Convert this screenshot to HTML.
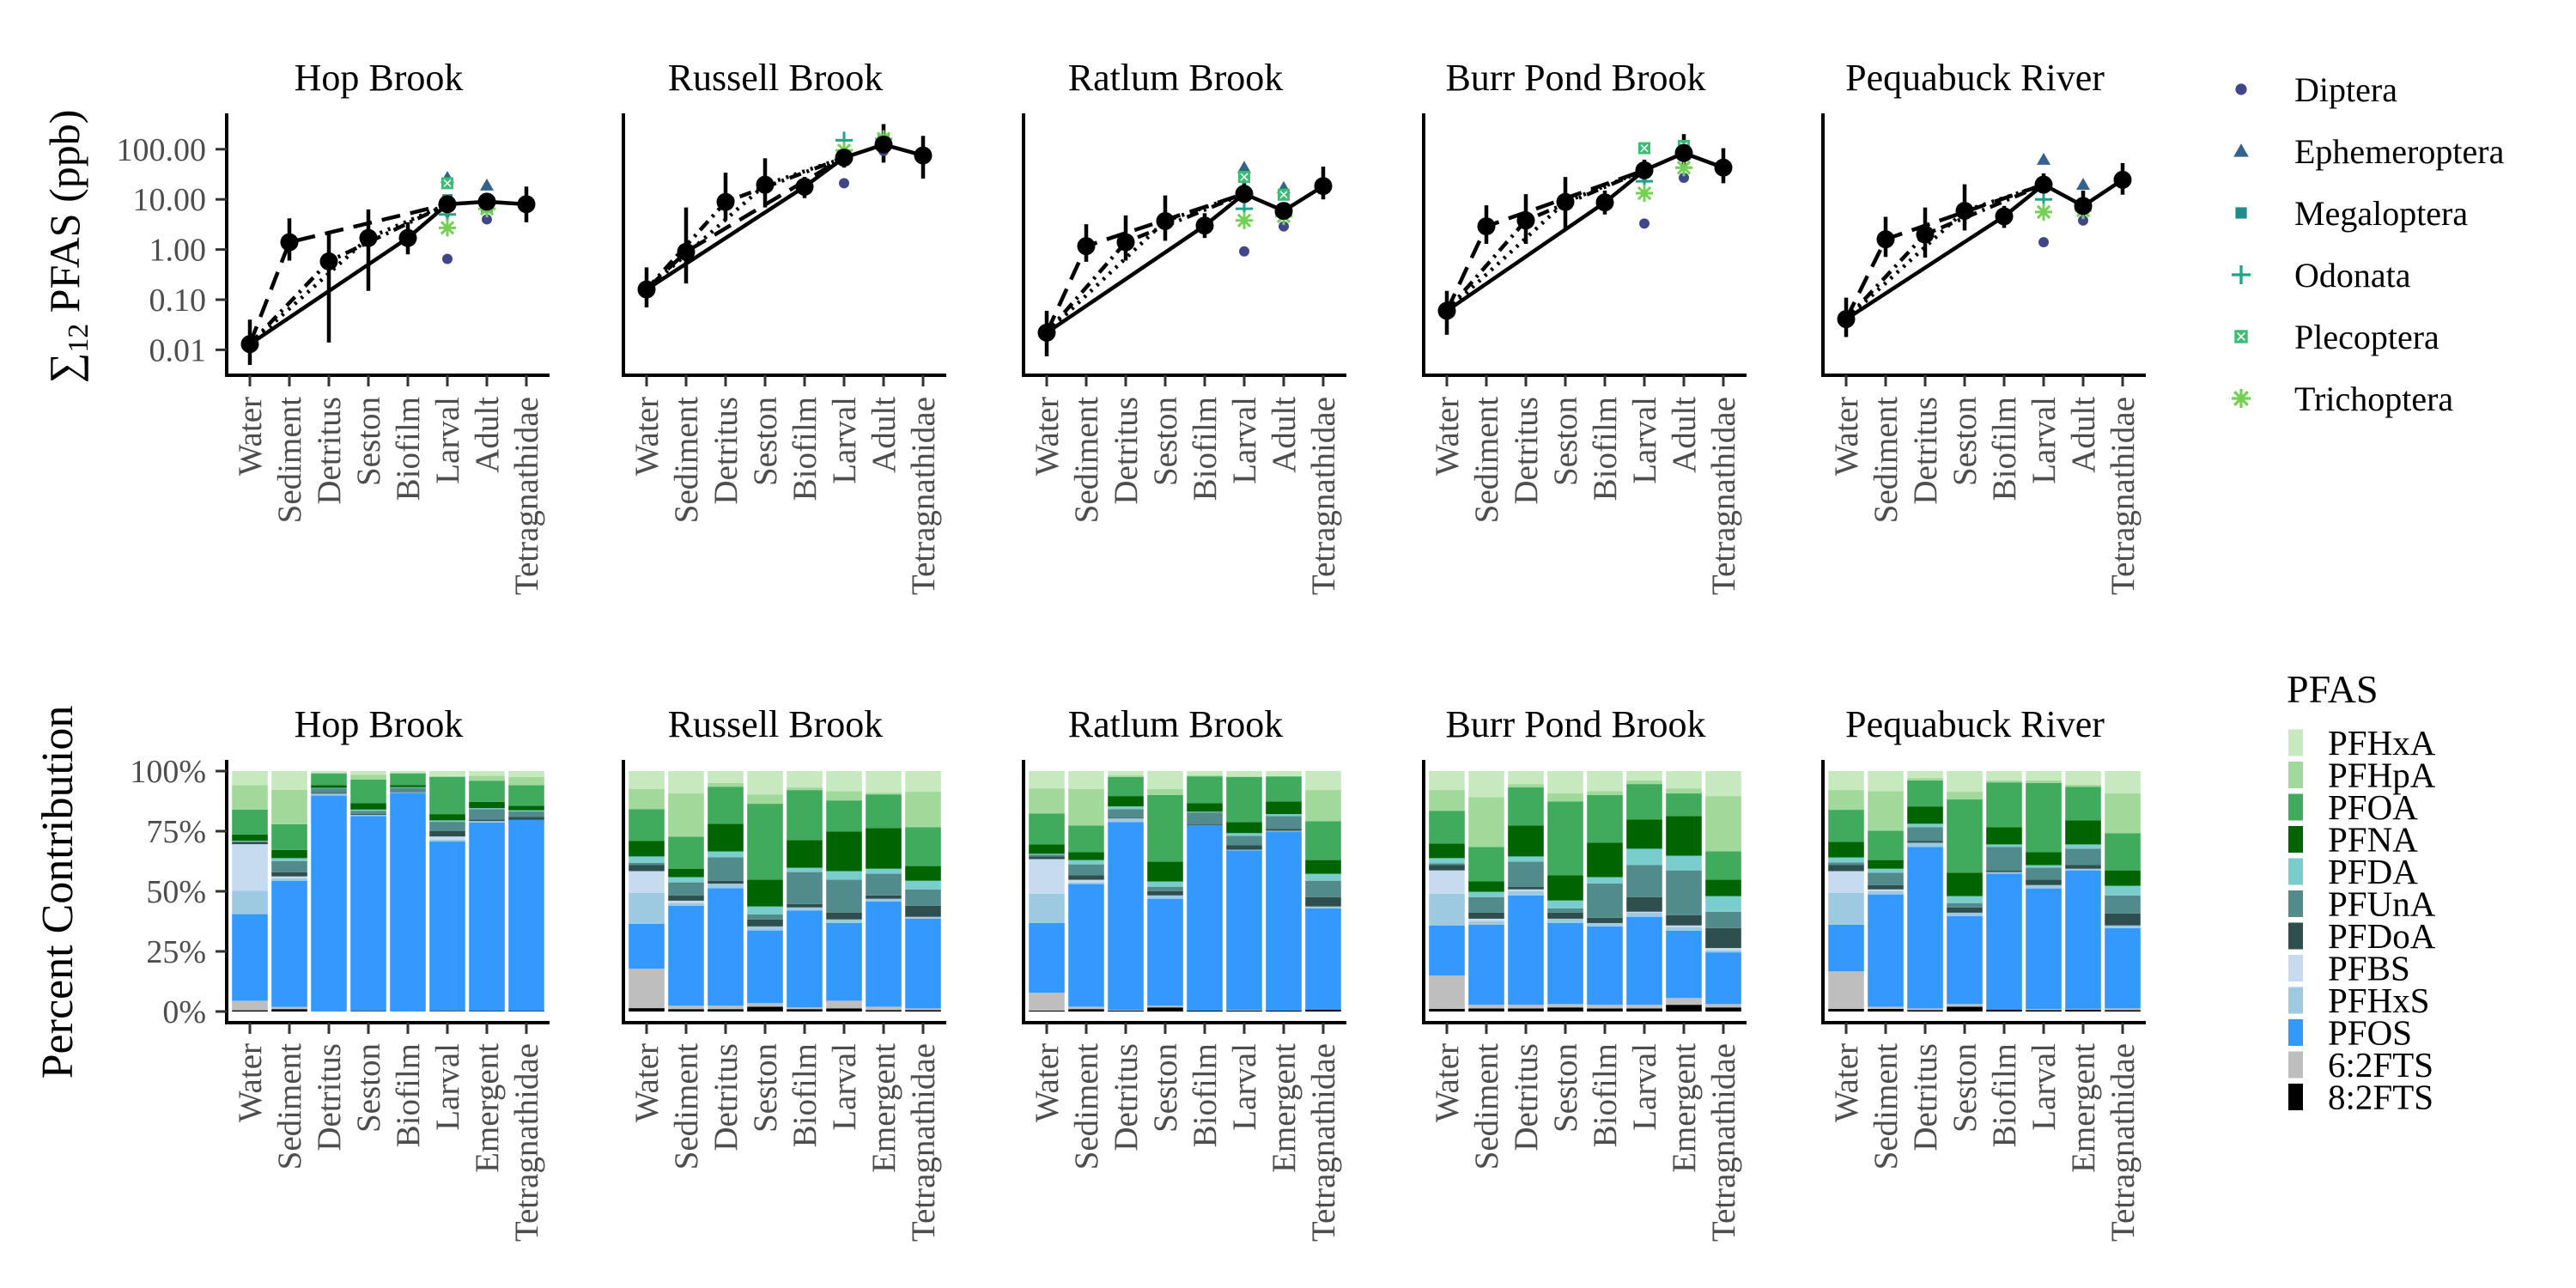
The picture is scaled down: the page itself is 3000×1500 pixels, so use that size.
<!DOCTYPE html>
<html><head><meta charset="utf-8">
<style>
html,body{margin:0;padding:0;background:#fff;}
svg{display:block;font-family:"Liberation Serif","DejaVu Serif",serif;}
</style></head>
<body>
<svg id="chart" width="3000" height="1500" viewBox="0 0 3000 1500" xmlns="http://www.w3.org/2000/svg">
<rect x="0" y="0" width="3000" height="1500" fill="#fff"/>
<text transform="translate(92,287) rotate(-90)" text-anchor="middle" font-size="50" fill="#000">∑<tspan font-size="34" dy="10">12</tspan><tspan dy="-10"> PFAS (ppb)</tspan></text>
<text transform="translate(84,1039) rotate(-90)" text-anchor="middle" font-size="52" fill="#000">Percent Contribution</text>
</svg>
<script>
const panelNames = ["Hop Brook","Russell Brook","Ratlum Brook","Burr Pond Brook","Pequabuck River"];
const topCats = ["Water","Sediment","Detritus","Seston","Biofilm","Larval","Adult","Tetragnathidae"];
const botCats = ["Water","Sediment","Detritus","Seston","Biofilm","Larval","Emergent","Tetragnathidae"];
const logTicks = [0.01,0.1,1,10,100];
const logTickLabels = ["0.01","0.10","1.00","10.00","100.00"];
const pctTicks = [0,25,50,75,100];
const pctTickLabels = ["0%","25%","50%","75%","100%"];

const meanVals = [
 [0.013,1.4,0.58,1.7,1.7,8,9,8],
 [0.16,0.9,8.9,19.6,17.9,68,124,75],
 [0.022,1.17,1.4,3.7,3.0,12.9,5.9,18.4],
 [0.06,2.9,3.8,8.9,8.7,38,84,43],
 [0.041,1.6,2.0,5.9,4.6,19.7,7.4,24.6]
];
const lowVals = [
 [0.005,0.6,0.014,0.15,0.8,4.5,6,3.5],
 [0.07,0.21,3.8,6.9,10.6,43,54,26],
 [0.0074,0.57,0.6,1.5,1.7,8.4,4.4,10],
 [0.02,1.3,1.3,2.4,5,24,40,21],
 [0.018,0.71,0.69,2.4,2.7,13.3,4.4,12.4]
];
const highVals = [
 [0.04,4.2,2.2,6.3,3.5,12,13,18],
 [0.44,6.9,34,66,28,102,318,185],
 [0.06,3.2,4.8,12,5.3,21,8.4,45],
 [0.15,7.6,12.7,28,15,62,200,105],
 [0.11,4.5,6.9,20,7.4,33,15,53]
];
const taxaNames = ["Diptera","Ephemeroptera","Megaloptera","Odonata","Plecoptera","Trichoptera"];
const larvalTaxa = [
 [0.65,27,10,5,21,2.7],
 [21,null,null,151,null,95],
 [0.92,43,28,6.5,28,3.8],
 [3.3,null,null,23,105,13.3],
 [1.4,62,null,10,null,5.6]
];
const adultTaxa = [
 [4,19,7,null,7,6.5],
 [92,null,null,null,150,162],
 [2.9,17,12,5.2,12.4,4.6],
 [27,null,null,null,116,43],
 [3.8,19.7,6.9,null,6.9,6]
];
const pfasNames = ["8:2FTS","6:2FTS","PFOS","PFHxS","PFBS","PFDoA","PFUnA","PFDA","PFNA","PFOA","PFHpA","PFHxA"];
// cumulative percent at top of each compound (bottom to top), per bar
const barCum = [
 [[0.5,4.5,40.5,50.2,69.6,70.6,70.6,71.0,73.6,84.0,94.1,100],
  [1.0,1.9,54.4,55.4,56.2,57.9,62.6,63.8,67.2,77.9,92.2,100],
  [0,0,89.8,90.6,90.6,91.0,92.8,93.0,94.2,99.0,99.4,100],
  [0.2,0.3,81.3,81.8,81.8,82.2,83.5,84.0,86.6,96.5,98.4,100],
  [0,0,90.9,91.2,91.2,91.4,93.1,93.3,94.2,99.0,99.4,100],
  [0.2,0.3,70.7,71.5,72.8,75.0,78.9,79.5,82.1,97.6,97.9,100],
  [0.2,0.2,78.6,79.2,79.2,79.8,84.2,84.6,87.2,96.0,98.1,100],
  [0.2,0.2,79.7,79.7,79.7,81.0,83.2,83.7,85.6,94.1,97.6,100]],
 [[1.4,17.8,36.5,49.4,58.4,60.9,61.8,64.5,70.9,84.2,92.5,100],
  [1.0,2.4,44.0,45.0,46.1,48.2,53.7,55.9,59.4,72.7,90.7,100],
  [1.0,2.4,51.3,53.2,53.2,54.4,64.1,66.6,78.1,93.5,95.0,100],
  [2.0,3.5,33.7,35.4,35.4,38.3,40.4,43.7,54.8,86.4,90.3,100],
  [1.0,1.7,42.0,43.3,43.3,44.7,58.0,59.8,71.3,92.1,93.2,100],
  [1.3,4.5,36.8,38.3,38.3,41.1,54.8,58.4,74.9,87.8,91.7,100],
  [0.6,2.0,45.8,46.9,46.9,48.3,57.3,59.4,76.3,90.3,91.0,100],
  [0.6,1.3,38.6,39.4,39.4,44.0,50.8,54.4,60.5,76.7,91.4,100]],
 [[0.4,7.8,36.8,49.0,63.4,64.5,65.2,65.6,69.5,82.4,92.8,100],
  [1.0,2.0,53.0,53.7,54.8,56.6,61.2,63.0,66.3,77.4,92.5,100],
  [0.4,0.6,78.8,80.3,80.3,80.6,84.2,85.3,89.6,97.5,98.2,100],
  [1.7,2.4,46.9,48.3,48.3,50.1,51.9,54.1,62.3,90.0,92.5,100],
  [0.4,0.4,77.4,77.4,77.4,77.8,82.8,83.1,86.7,97.8,98.2,100],
  [0.4,0.6,67.0,67.3,67.3,69.1,73.1,74.2,78.8,97.5,97.8,100],
  [0.4,0.4,74.9,75.2,75.2,76.0,81.3,82.1,87.4,97.8,97.8,100],
  [0.8,0.8,42.9,43.7,43.7,47.6,54.4,57.3,63.0,79.2,92.1,100]],
 [[1.1,15.0,35.8,49.0,58.7,60.9,61.6,63.8,69.9,83.5,92.1,100],
  [1.3,2.8,36.1,37.6,38.6,41.1,47.6,49.8,54.1,68.4,89.2,100],
  [1.3,2.8,48.3,50.1,50.8,51.9,62.3,64.5,77.4,93.2,94.6,100],
  [1.7,3.1,36.8,38.6,38.6,41.1,42.9,46.2,56.6,87.4,90.7,100],
  [1.3,2.8,35.4,36.8,36.8,39.0,53.3,55.9,70.2,90.0,91.7,100],
  [1.3,2.8,39.4,41.1,41.5,47.6,60.9,67.7,79.9,94.6,96.1,100],
  [2.8,5.6,33.6,35.0,35.8,40.1,58.7,64.8,81.3,90.7,92.8,100],
  [1.7,3.1,24.6,25.4,26.4,34.7,41.5,48.0,54.8,66.6,89.6,100]],
 [[1.1,16.7,36.1,49.4,58.4,60.9,62.0,64.1,70.6,83.9,92.1,100],
  [1.1,2.0,48.7,50.1,50.8,52.6,57.7,59.4,63.0,75.2,91.7,100],
  [0.6,1.3,68.4,70.2,70.2,70.9,76.7,78.1,85.3,96.1,97.1,100],
  [2.0,3.1,39.7,41.1,41.1,43.3,45.1,48.0,57.7,88.2,91.4,100],
  [0.8,0.8,57.3,58.0,58.0,58.7,68.4,69.5,76.7,95.3,96.1,100],
  [0.6,1.0,51.2,52.6,52.6,54.8,59.8,60.9,66.3,95.0,96.1,100],
  [0.8,1.1,58.7,59.4,59.4,60.9,67.7,69.5,79.5,93.5,94.3,100],
  [0.6,1.3,34.7,35.8,35.8,40.8,48.3,52.3,58.7,74.2,90.7,100]]
];
const legendOrder = ["PFHxA","PFHpA","PFOA","PFNA","PFDA","PFUnA","PFDoA","PFBS","PFHxS","PFOS","6:2FTS","8:2FTS"];

const pfasColors = {"8:2FTS":"#000000","6:2FTS":"#bebebe","PFOS":"#3399ff","PFHxS":"#9ecae1","PFBS":"#c6dbef","PFDoA":"#2f4f4f","PFUnA":"#528b8b","PFDA":"#79cdcd","PFNA":"#006400","PFOA":"#41ab5d","PFHpA":"#a1d99b","PFHxA":"#c7e9c0"};
const taxaColors = ["#404788","#33638d","#238a8d","#20a387","#3cbc75","#73d055"];

const NS = "http://www.w3.org/2000/svg";
const svg = document.getElementById("chart");
function mk(tag, attrs, parent){
  const e = document.createElementNS(NS, tag);
  for (const k in attrs) e.setAttribute(k, attrs[k]);
  (parent||svg).appendChild(e);
  return e;
}
const waterX = [291, 753, 1219, 1685, 2150];
const STEP = 46;
function xPos(p, i){ return waterX[p] + i*STEP; }
function yLog(v){ return 290.6 - 58.4*Math.log10(v); }
function yPct(v){ return 1178 - v*2.8; }

// ---------- top panels ----------
panelNames.forEach((name, p) => {
  const g = mk("g", {});
  
  
  const ax0 = waterX[p]-27, ax1 = waterX[p]+7*STEP+27;
  const t = mk("text", {x: waterX[p]+150, y: 105, "text-anchor":"middle", "font-size":44, fill:"#000"}, g);
  t.textContent = name;
  
  
  const yl = mk("line", {x1:ax0, y1:132, x2:ax0, y2:438, stroke:"#000", "stroke-width":4}, g);
  
  
  const xl = mk("line", {x1:ax0-2, y1:437, x2:ax1, y2:437, stroke:"#000", "stroke-width":4}, g);
  
  
  if (p === 0) {
    logTicks.forEach((v, k) => {
      const tk = mk("line", {x1:ax0-13, y1:yLog(v), x2:ax0, y2:yLog(v), stroke:"#333", "stroke-width":3}, g);
      
      
      const tl = mk("text", {x:ax0-24, y:yLog(v)+13, "text-anchor":"end", "font-size":38, fill:"#4d4d4d"}, g);
      tl.textContent = logTickLabels[k];
      
      
    });
  }
  topCats.forEach((c, i) => {
    const x = xPos(p, i);
    const tk = mk("line", {x1:x, y1:437, x2:x, y2:450, stroke:"#333", "stroke-width":3}, g);
    
    
    const tl = mk("text", {transform:`translate(${x+13},462) rotate(-90)`, "text-anchor":"end", "font-size":39, fill:"#4d4d4d"}, g);
    tl.textContent = c;
    
    
  });
  const m = meanVals[p];
  const pt = i => `${xPos(p,i)},${yLog(m[i])}`;
  const paths = [
    {idx:[0,4,5,6,7], dash:"", nm:"biofilm-pathway-line"},
    {idx:[0,1,5], dash:"22,12", nm:"sediment-pathway-line"},
    {idx:[0,2,5], dash:"14,7,3,7", nm:"detritus-pathway-line"},
    {idx:[0,3,5], dash:"3,7", nm:"seston-pathway-line"}
  ];
  paths.forEach(pa => {
    const pl = mk("polyline", {points: pa.idx.map(pt).join(" "), fill:"none", stroke:"#000", "stroke-width":4.5, "stroke-dasharray":pa.dash}, g);
    
    
  });
  m.forEach((v, i) => {
    const x = xPos(p, i);
    const eb = mk("line", {x1:x, y1:yLog(lowVals[p][i]), x2:x, y2:yLog(highVals[p][i]), stroke:"#000", "stroke-width":4.5}, g);
    
    
  });
  [[larvalTaxa, 5],[adultTaxa, 6]].forEach(([arr, ci]) => {
    arr[p].forEach((v, ti) => {
      if (v === null) return;
      const mkx = drawMarker(ti, xPos(p, ci), yLog(v), 1, g);
      
      
    });
  });
  m.forEach((v, i) => {
    const c = mk("circle", {cx:xPos(p,i), cy:yLog(v), r:10.5, fill:"#000"}, g);
    
    
  });
});

function drawMarker(ti, x, y, s, parent){
  const g = mk("g", {transform:`translate(${x},${y}) scale(${s})`}, parent);
  const col = taxaColors[ti];
  if (ti === 0) mk("circle", {cx:0, cy:0, r:6, fill:col}, g);
  else if (ti === 1) mk("polygon", {points:"0,-8 8,6 -8,6", fill:col}, g);
  else if (ti === 2) mk("rect", {x:-6, y:-6, width:12, height:12, fill:col}, g);
  else if (ti === 3) { mk("line", {x1:-10, y1:0, x2:10, y2:0, stroke:col, "stroke-width":3}, g); mk("line", {x1:0, y1:-10, x2:0, y2:10, stroke:col, "stroke-width":3}, g); }
  else if (ti === 4) { mk("rect", {x:-7, y:-7, width:14, height:14, fill:col}, g); mk("path", {d:"M-4,-4L4,4M4,-4L-4,4", stroke:"#fff", "stroke-width":1.5}, g); }
  else { [0,45,90,135].forEach(a => mk("line", {x1:-10, y1:0, x2:10, y2:0, stroke:col, "stroke-width":3, transform:`rotate(${a})`}, g)); }
  return g;
}

// ---------- bottom panels ----------
panelNames.forEach((name, p) => {
  const g = mk("g", {});
  
  
  const ax0 = waterX[p]-27, ax1 = waterX[p]+7*STEP+27;
  const t = mk("text", {x: waterX[p]+150, y: 858, "text-anchor":"middle", "font-size":44, fill:"#000"}, g);
  t.textContent = name;
  
  
  barCum[p].forEach((cum, b) => {
    const x = xPos(p, b);
    let prev = 0;
    cum.forEach((c, k) => {
      if (c > prev) {
        const r = mk("rect", {x:x-20.8, y:yPct(c), width:41.6, height:yPct(prev)-yPct(c), fill:pfasColors[pfasNames[k]]}, g);
        
        
      }
      prev = c;
    });
  });
  const yl = mk("line", {x1:ax0, y1:885, x2:ax0, y2:1192, stroke:"#000", "stroke-width":4}, g);
  
  
  const xl = mk("line", {x1:ax0-2, y1:1191, x2:ax1, y2:1191, stroke:"#000", "stroke-width":4}, g);
  
  
  if (p === 0) {
    pctTicks.forEach((v, k) => {
      const tk = mk("line", {x1:ax0-13, y1:yPct(v), x2:ax0, y2:yPct(v), stroke:"#333", "stroke-width":3}, g);
      
      
      const tl = mk("text", {x:ax0-24, y:yPct(v)+13, "text-anchor":"end", "font-size":38, fill:"#4d4d4d"}, g);
      tl.textContent = pctTickLabels[k];
      
      
    });
  }
  botCats.forEach((c, i) => {
    const x = xPos(p, i);
    const tk = mk("line", {x1:x, y1:1191, x2:x, y2:1204, stroke:"#333", "stroke-width":3}, g);
    
    
    const tl = mk("text", {transform:`translate(${x+13},1215) rotate(-90)`, "text-anchor":"end", "font-size":39, fill:"#4d4d4d"}, g);
    tl.textContent = c;
    
    
  });
});

// ---------- taxa legend ----------
const lg = mk("g", {});


taxaNames.forEach((n, i) => {
  const y = 104 + i*72;
  const e = mk("g", {}, lg);
  
  
  drawMarker(i, 2610, y, 1.1, e);
  const t = mk("text", {x:2672, y:y+14, "font-size":40, fill:"#000"}, e);
  t.textContent = n;
});

// ---------- PFAS legend ----------
const pg = mk("g", {});


const pt = mk("text", {x:2663, y:818, "font-size":46, fill:"#000"}, pg);
pt.textContent = "PFAS";


legendOrder.forEach((n, i) => {
  const cy = 865 + i*37.5;
  const e = mk("g", {}, pg);
  
  
  mk("rect", {x:2665, y:cy-15.5, width:17, height:31, fill:pfasColors[n]}, e);
  const t = mk("text", {x:2711, y:cy+14, "font-size":41, fill:"#000"}, e);
  t.textContent = n;
});
</script>
</body></html>
